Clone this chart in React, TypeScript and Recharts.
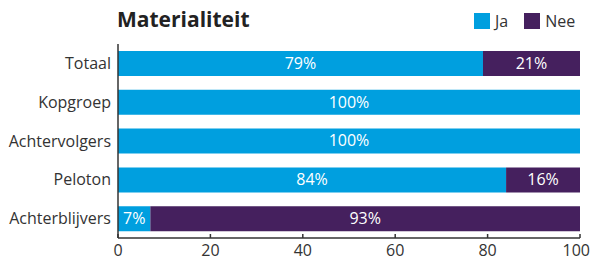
import React from "react";
import { BarChart, Bar, XAxis, YAxis, LabelList } from "recharts";

const categories = ["Totaal", "Kopgroep", "Achtervolgers", "Peloton", "Achterblijvers"];
const jaValues = [79, 100, 100, 84, 7];
const neeValues = [21, 0, 0, 16, 93];
const xTicks = [0, 20, 40, 60, 80, 100];

const data = categories.map((name, i) => ({ name, ja: jaValues[i], nee: neeValues[i] }));

const BLUE = "#009fdf";
const PURPLE = "#45205e";
const TEXT = "#333333";
const FONT = "'Open Sans', 'DejaVu Sans', sans-serif";

const renderLabel = (props: any) => {
  const { x, y, width, height, value } = props;
  if (!value) return null;
  return (
    <text
      x={x + width / 2}
      y={y + height / 2 + 1}
      fill="#ffffff"
      fontSize={16}
      fontFamily={FONT}
      textAnchor="middle"
      dominantBaseline="middle"
    >
      {value}%
    </text>
  );
};

const XTick = (props: any) => {
  const { x, y, payload } = props;
  const isLast = payload.value === xTicks[xTicks.length - 1];
  return (
    <text
      x={isLast ? Math.min(x + 14, 590) : x}
      y={y}
      dy={14}
      fill={TEXT}
      fontSize={16}
      fontFamily={FONT}
      textAnchor={isLast ? "end" : "middle"}
    >
      {payload.value}
    </text>
  );
};

export default function App() {
  return (
    <div style={{ position: "absolute", left: 0, top: 0, width: 591, height: 260, fontFamily: FONT }}>
      <div style={{ position: "absolute", left: 117, top: 5, fontSize: 21, fontWeight: 700, color: "#222" }}>
        Materialiteit
      </div>
      <div style={{ position: "absolute", left: 474, top: 10, display: "flex", alignItems: "center", fontSize: 16, color: TEXT }}>
        <span style={{ width: 16, height: 16, background: BLUE, display: "inline-block", marginRight: 5 }} />
        <span style={{ marginRight: 16 }}>Ja</span>
        <span style={{ width: 16, height: 16, background: PURPLE, display: "inline-block", marginRight: 5 }} />
        <span>Nee</span>
      </div>
      <BarChart
        width={591}
        height={260}
        data={data}
        layout="vertical"
        margin={{ top: 44, right: 11, left: 0, bottom: 0 }}
        barSize={25}
        style={{ overflow: "visible" }}
      >
        <XAxis
          type="number"
          domain={[0, 100]}
          ticks={xTicks}
          height={22}
          tickSize={-4}
          tickMargin={8}
          stroke={TEXT}
          tick={<XTick />}
          axisLine={{ stroke: TEXT, strokeWidth: 1.5 }}
          tickLine={{ stroke: TEXT, strokeWidth: 1.5 }}
        />
        <YAxis
          type="category"
          dataKey="name"
          width={118}
          tickLine={false}
          tickMargin={1}
          axisLine={{ stroke: TEXT, strokeWidth: 1.5 }}
          tick={{ fill: TEXT, fontSize: 16, fontFamily: FONT }}
        />
        <Bar dataKey="ja" stackId="a" fill={BLUE} isAnimationActive={false}>
          <LabelList dataKey="ja" content={renderLabel} />
        </Bar>
        <Bar dataKey="nee" stackId="a" fill={PURPLE} isAnimationActive={false}>
          <LabelList dataKey="nee" content={renderLabel} />
        </Bar>
      </BarChart>
    </div>
  );
}
